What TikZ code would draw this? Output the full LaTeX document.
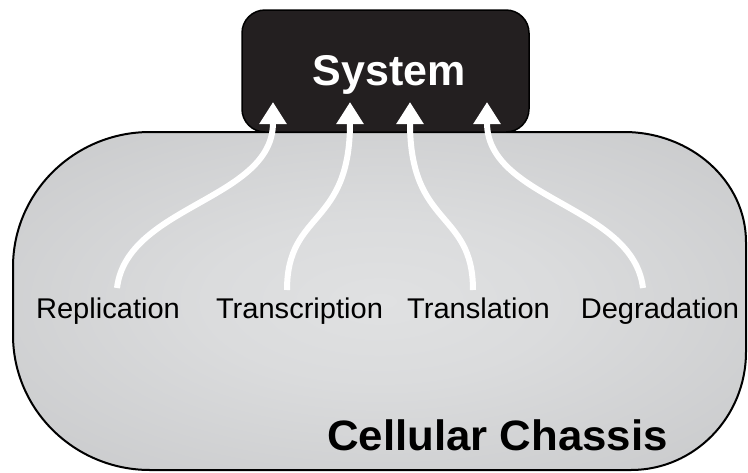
\documentclass[tikz,border=0pt]{standalone}
\usepackage{fontspec}
\setmainfont{Liberation Sans}
\newfontfamily\labfont[FakeStretch=1.02]{Liberation Sans}
\newfontfamily\sysfont{Liberation Sans}
\newfontfamily\chfont[FakeStretch=1.03]{Liberation Sans}
\usetikzlibrary{arrows.meta}
\definecolor{boxblack}{HTML}{231F20}
\definecolor{shadeIn}{HTML}{E0E1E2}
\definecolor{shadeOut}{HTML}{BDBEC0}
\pgfdeclareradialshading{chassisshade}{\pgfpoint{0bp}{0bp}}{color(0bp)=(shadeIn); color(12bp)=(shadeIn!85!shadeOut); color(50bp)=(shadeOut); color(70bp)=(shadeOut!97!black)}
\tikzset{
  labeltext/.style={anchor=base, inner sep=0pt, text=black, font=\labfont\fontsize{28.5}{32}\selectfont},
  flow/.style={draw=white, line width=6pt, -{Triangle[width=26pt,length=22pt]}},
  chassis/.style={draw=black, line width=2pt, shading=chassisshade},
  sysbox/.style={draw=black, fill=boxblack, line width=1.5pt, rounded corners=23pt}
}
\begin{document}
\begin{tikzpicture}[x=1pt,y=-1pt]
\useasboundingbox (0,0) rectangle (748,472);
% chassis
\path[chassis] (150,132) -- (624,132) .. controls (691.3,132) and (746,181.3) .. (746,242)
  -- (746,352) .. controls (746,417) and (694.5,470) .. (631,470)
  -- (150,470) .. controls (74.4,470) and (13,409.5) .. (13,335)
  -- (13,267) .. controls (13,192.5) and (74.4,132) .. (150,132) -- cycle;
% system box
\draw[sysbox] (242,10) rectangle (529,132);
\node[anchor=base, inner sep=0pt, text=white, font=\sysfont\bfseries\fontsize{43}{48}\selectfont] (sys) at (389,85) {System};
\node[anchor=base, inner sep=0pt, text=black, font=\chfont\bfseries\fontsize{42.5}{48}\selectfont] (cc) at (497.5,450) {Cellular Chassis};
% labels
\node[labeltext] (rep) at (108,318) {Replication};
\node[labeltext] (tsc) at (299.5,318) {Transcription};
\node[labeltext] (tsl) at (478.5,318) {Translation};
\node[labeltext] (deg) at (660,318) {Degradation};
% arrow ends
\coordinate (s1) at (117,288);
\coordinate (s2) at (287,290);
\coordinate (s3) at (473,290);
\coordinate (s4) at (643,288);
\coordinate (t1) at (273,102);
\coordinate (t2) at (350,102);
\coordinate (t3) at (410,102);
\coordinate (t4) at (487,102);
\draw[flow] (s1) .. controls (127,205) and (273,200) .. (t1);
\draw[flow] (s2) .. controls (287,210) and (350,228) .. (t2);
\draw[flow] (s3) .. controls (473,210) and (410,228) .. (t3);
\draw[flow] (s4) .. controls (633,205) and (487,200) .. (t4);
\end{tikzpicture}
\end{document}
